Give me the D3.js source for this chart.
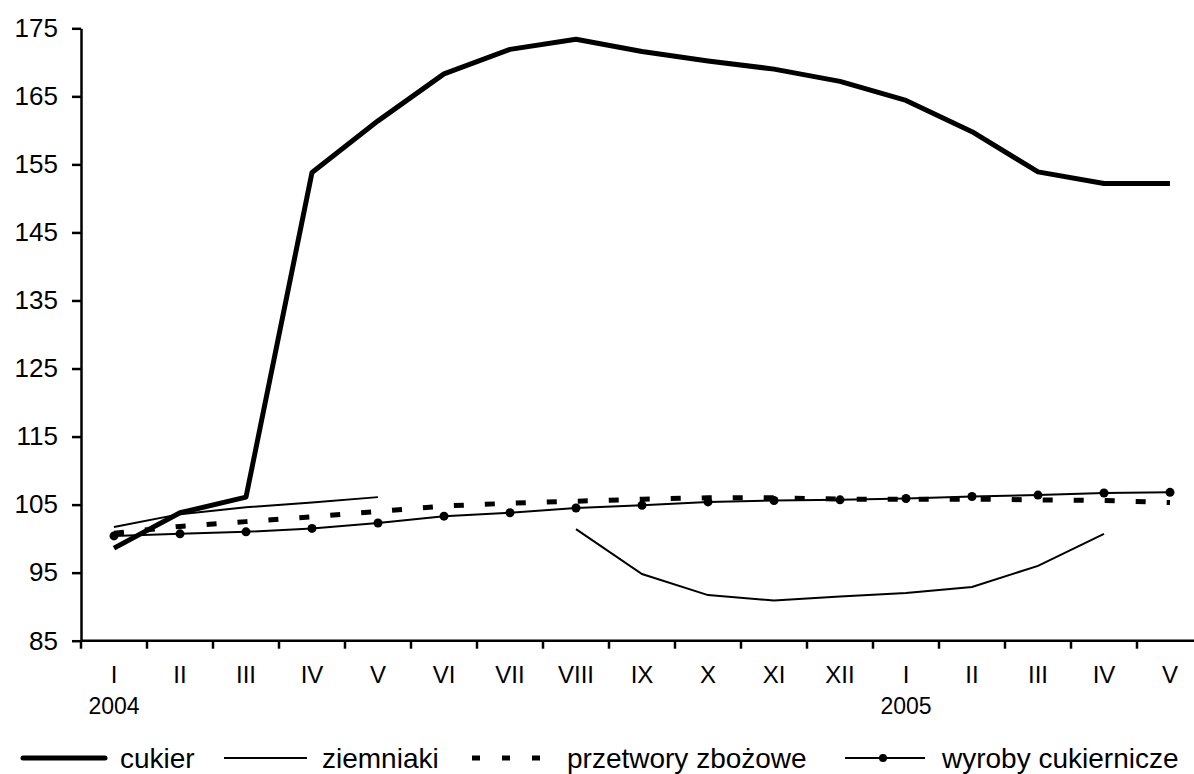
<!DOCTYPE html>
<html>
<head>
<meta charset="utf-8">
<script src="https://cdn.jsdelivr.net/npm/d3@7"></script>
<style>
  body { margin: 0; background: #fff; }
  text { font-family: "Liberation Sans", Arial, sans-serif; fill: #000; }
</style>
</head>
<body>
<div id="chart"></div>
<script>
// months, 2004 I .. 2005 V
var months = ["I","II","III","IV","V","VI","VII","VIII","IX","X","XI","XII","I","II","III","IV","V"];
var years = [{i: 0, label: "2004"}, {i: 12, label: "2005"}];
var yTicks = [85, 95, 105, 115, 125, 135, 145, 155, 165, 175];

var cukier = [98.6, 103.8, 106.1, 153.8, 161.4, 168.3, 171.9, 173.4, 171.6, 170.2, 169.0, 167.2, 164.4, 159.8, 153.9, 152.2, 152.2];
var ziemniaki = [101.7, 103.6, 104.6, 105.3, 106.1, null, null, 101.4, 94.8, 91.7, 90.9, 91.5, 92.0, 92.9, 96.0, 100.7, null];
var przetwory = [100.8, 101.8, 102.5, 103.2, 104.0, 104.8, 105.2, 105.5, 105.8, 106.0, 106.0, 105.8, 105.8, 105.8, 105.7, 105.6, 105.3];
var wyroby = [100.4, 100.7, 101.0, 101.5, 102.3, 103.3, 103.8, 104.5, 104.9, 105.4, 105.6, 105.7, 105.9, 106.2, 106.4, 106.7, 106.8];

var width = 1194, height = 774;
var plotLeft = 81, bandW = 66;
var plotTop = 28.3, plotBottom = 640.7;

var svg = d3.select("#chart").append("svg")
  .attr("width", width)
  .attr("height", height);

var x = d3.scaleBand()
  .domain(d3.range(months.length))
  .range([plotLeft, plotLeft + bandW * months.length])
  .paddingInner(0).paddingOuter(0);

var y = d3.scaleLinear()
  .domain([85, 175])
  .range([plotBottom, plotTop]);

var cx = function(i) { return x(i) + x.bandwidth() / 2; };

// y axis
var yAxis = svg.append("g")
  .attr("transform", "translate(" + plotLeft + ",0)")
  .call(d3.axisLeft(y).tickValues(yTicks).tickSize(9).tickPadding(14).tickSizeOuter(0));
yAxis.select(".domain").attr("stroke", "#000").attr("stroke-width", 2.5);
yAxis.selectAll(".tick line").attr("stroke", "#000").attr("stroke-width", 2.5);
yAxis.selectAll(".tick text").style("font-size", "26px");

// x axis: ticks between categories
var xAxis = svg.append("g")
  .attr("transform", "translate(0," + plotBottom + ")");
xAxis.append("line")
  .attr("x1", plotLeft).attr("x2", x.range()[1])
  .attr("stroke", "#000").attr("stroke-width", 2.5);
xAxis.selectAll(".xt").data(d3.range(months.length))
  .enter().append("line")
  .attr("x1", function(i) { return x(i); })
  .attr("x2", function(i) { return x(i); })
  .attr("y1", 0).attr("y2", 8)
  .attr("stroke", "#000").attr("stroke-width", 2.5);
xAxis.selectAll(".xl").data(months)
  .enter().append("text")
  .attr("x", function(d, i) { return cx(i); })
  .attr("y", 42)
  .attr("text-anchor", "middle")
  .style("font-size", "24px")
  .text(function(d) { return d; });
xAxis.selectAll(".yl").data(years)
  .enter().append("text")
  .attr("x", function(d) { return cx(d.i); })
  .attr("y", 73)
  .attr("text-anchor", "middle")
  .style("font-size", "23px")
  .text(function(d) { return d.label; });

var line = d3.line()
  .defined(function(d) { return d != null; })
  .x(function(d, i) { return cx(i); })
  .y(function(d) { return y(d); });

svg.append("path").datum(cukier)
  .attr("d", line).attr("fill", "none")
  .attr("stroke", "#000").attr("stroke-width", 5)
  .attr("stroke-linejoin", "round");

svg.append("path").datum(ziemniaki)
  .attr("d", line).attr("fill", "none")
  .attr("stroke", "#000").attr("stroke-width", 2);

svg.append("path").datum(przetwory)
  .attr("d", line).attr("fill", "none")
  .attr("stroke", "#000").attr("stroke-width", 5)
  .attr("stroke-dasharray", "10,21");

svg.append("path").datum(wyroby)
  .attr("d", line).attr("fill", "none")
  .attr("stroke", "#000").attr("stroke-width", 2);
svg.selectAll(".dot").data(wyroby)
  .enter().append("circle")
  .attr("cx", function(d, i) { return cx(i); })
  .attr("cy", function(d) { return y(d); })
  .attr("r", 4.5)
  .attr("fill", "#000");

// legend
var legY = 758, legTextY = 768;
var leg = svg.append("g");
leg.append("line").attr("x1", 23).attr("x2", 105).attr("y1", legY).attr("y2", legY)
  .attr("stroke", "#000").attr("stroke-width", 5).attr("stroke-linecap", "round");
leg.append("line").attr("x1", 224).attr("x2", 307).attr("y1", legY).attr("y2", legY)
  .attr("stroke", "#000").attr("stroke-width", 2);
leg.append("line").attr("x1", 472).attr("x2", 540).attr("y1", legY).attr("y2", legY)
  .attr("stroke", "#000").attr("stroke-width", 5).attr("stroke-dasharray", "8,22");
leg.append("line").attr("x1", 845).attr("x2", 925).attr("y1", legY).attr("y2", legY)
  .attr("stroke", "#000").attr("stroke-width", 2);
leg.append("circle").attr("cx", 883).attr("cy", legY).attr("r", 4).attr("fill", "#000");

var legLabels = [
  {x: 120, t: "cukier"},
  {x: 322, t: "ziemniaki"},
  {x: 567, t: "przetwory zbożowe"},
  {x: 942, t: "wyroby cukiernicze"}
];
leg.selectAll(".lt").data(legLabels)
  .enter().append("text")
  .attr("x", function(d) { return d.x; })
  .attr("y", legTextY)
  .style("font-size", "28px")
  .text(function(d) { return d.t; });
</script>
</body>
</html>
